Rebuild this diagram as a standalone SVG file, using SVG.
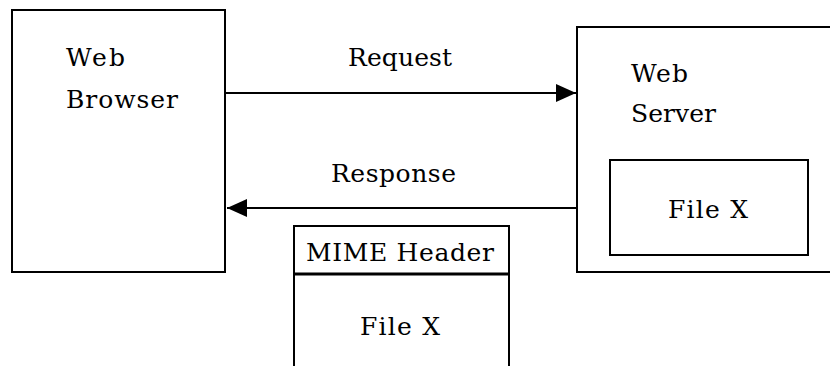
<svg xmlns="http://www.w3.org/2000/svg" width="830" height="366" viewBox="0 0 830 366">
  <style>
    .box { fill: #ffffff; stroke: #000000; stroke-width: 2; }
    .line { fill: none; stroke: #000000; stroke-width: 2; }
    text { font-family: "DejaVu Serif", "Liberation Serif", serif; font-size: 25px; fill: #000000; }
  </style>
  <defs>
    <marker id="arrow" markerWidth="20" markerHeight="18" refX="20" refY="9" orient="auto" markerUnits="userSpaceOnUse">
      <path d="M0,0 L20,9 L0,18 Z" fill="#000000"/>
    </marker>
  </defs>
  <rect width="830" height="366" fill="#ffffff"/>

  <g id="web-browser">
    <rect class="box" x="12" y="10" width="213" height="262"/>
    <text x="66" y="66" textLength="59" lengthAdjust="spacing">Web</text>
    <text x="66" y="108" textLength="112" lengthAdjust="spacing">Browser</text>
  </g>

  <g id="web-server">
    <rect class="box" x="577" y="27" width="270" height="245"/>
    <text x="631" y="82" textLength="57" lengthAdjust="spacing">Web</text>
    <text x="631" y="122" textLength="85" lengthAdjust="spacing">Server</text>
    <g id="server-file">
      <rect class="box" x="610" y="160" width="198" height="95"/>
      <text x="668" y="218" textLength="80" lengthAdjust="spacing">File X</text>
    </g>
  </g>

  <g id="mime-message">
    <rect class="box" x="294" y="226" width="215" height="150"/>
    <line x1="294" y1="274" x2="509" y2="274" stroke="#000000" stroke-width="3"/>
    <text x="306" y="261" textLength="188" lengthAdjust="spacing">MIME Header</text>
    <text x="360" y="335" textLength="80" lengthAdjust="spacing">File X</text>
  </g>

  <g id="connectors">
    <line class="line" x1="225" y1="93" x2="576" y2="93" marker-end="url(#arrow)"/>
    <text x="348" y="66" textLength="104" lengthAdjust="spacing">Request</text>
    <line class="line" x1="577" y1="208" x2="227" y2="208" marker-end="url(#arrow)"/>
    <text x="331" y="182" textLength="125" lengthAdjust="spacing">Response</text>
  </g>
</svg>
